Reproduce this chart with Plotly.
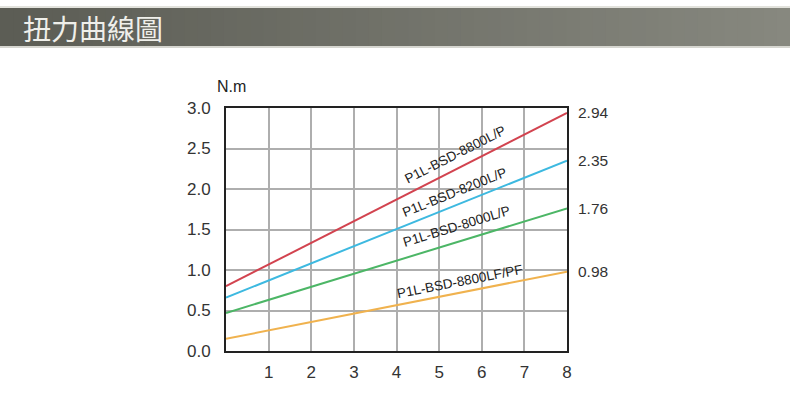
import plotly.graph_objects as go
import math

# ---- data ----
x_points = [0, 8]
series_names = ["P1L-BSD-8800L/P", "P1L-BSD-8200L/P", "P1L-BSD-8000L/P", "P1L-BSD-8800LF/PF"]
red_vals = [0.80, 2.94]
blue_vals = [0.66, 2.35]
green_vals = [0.47, 1.76]
orange_vals = [0.15, 0.98]
end_labels = ["2.94", "2.35", "1.76", "0.98"]
label_pos_x = [5.38, 5.35, 5.40, 5.49]
label_pos_y = [2.42, 1.96, 1.54, 0.86]
x_ticks = [1, 2, 3, 4, 5, 6, 7, 8]
y_ticks = [0.0, 0.5, 1.0, 1.5, 2.0, 2.5, 3.0]
title_text = "扭力曲線圖"
unit_text = "N.m"

colors = ["#d2434f", "#3db9e0", "#4cb666", "#f0b24e"]
all_vals = [red_vals, blue_vals, green_vals, orange_vals]

W, H = 790, 398
L, R, T, B = 226, 790 - 567, 108, 398 - 351
pw, ph = W - L - R, H - T - B

def px_to_paper_x(px):
    return (px - L) / pw

def px_to_paper_y(py):
    return (H - B - py) / ph

fig = go.Figure()
for name, vals, c in zip(series_names, all_vals, colors):
    fig.add_trace(go.Scatter(x=x_points, y=vals, mode="lines", name=name,
                             line=dict(color=c, width=2), hoverinfo="skip"))

shapes = []
# header gradient bar
n = 60
c0 = (0x5c, 0x5d, 0x55)
c1 = (0x87, 0x88, 0x7f)
for i in range(n):
    t = i / (n - 1)
    col = "rgb(%d,%d,%d)" % tuple(int(a + (b - a) * t) for a, b in zip(c0, c1))
    shapes.append(dict(type="rect", xref="paper", yref="paper",
                       x0=px_to_paper_x(W * i / n), x1=px_to_paper_x(W * (i + 1) / n + 1),
                       y0=px_to_paper_y(46), y1=px_to_paper_y(8),
                       fillcolor=col, line=dict(width=0), layer="below"))
shapes.append(dict(type="line", xref="paper", yref="paper",
                   x0=px_to_paper_x(0), x1=px_to_paper_x(W),
                   y0=px_to_paper_y(47), y1=px_to_paper_y(47),
                   line=dict(color="#c8c8c0", width=1.5)))
shapes.append(dict(type="line", xref="paper", yref="paper",
                   x0=px_to_paper_x(0), x1=px_to_paper_x(W),
                   y0=px_to_paper_y(7), y1=px_to_paper_y(7),
                   line=dict(color="#d8d8d0", width=1.5)))

annotations = []
annotations.append(dict(text=title_text, xref="paper", yref="paper",
                        x=px_to_paper_x(21), y=px_to_paper_y(28), xanchor="left", yanchor="middle",
                        showarrow=False,
                        font=dict(family="Noto Sans CJK TC", size=28, color="#efefea")))
annotations.append(dict(text=unit_text, xref="paper", yref="paper",
                        x=px_to_paper_x(231), y=px_to_paper_y(86), xanchor="center", yanchor="middle",
                        showarrow=False, font=dict(family="Arial, Liberation Sans", size=16, color="#222")))

xscale = pw / 8.0
yscale = ph / 3.0
for name, vals, lx, ly, lab in zip(series_names, all_vals, label_pos_x, label_pos_y, end_labels):
    slope = (vals[1] - vals[0]) / (x_points[1] - x_points[0])
    ang = math.degrees(math.atan(slope * yscale / xscale))
    annotations.append(dict(text=name, x=lx, y=ly, xref="x", yref="y", showarrow=False,
                            textangle=-ang, font=dict(family="Arial, Liberation Sans", size=13.5, color="#222")))
    annotations.append(dict(text=lab, x=x_points[1], y=vals[1], xref="x", yref="y", showarrow=False,
                            xanchor="left", yanchor="middle", xshift=9,
                            font=dict(family="Arial, Liberation Sans", size=15.5, color="#333")))

fig.update_layout(
    width=W, height=H,
    margin=dict(l=L, r=R, t=T, b=B, pad=0),
    paper_bgcolor="white", plot_bgcolor="white",
    showlegend=False,
    shapes=shapes, annotations=annotations,
    xaxis=dict(range=[0, 8], tickvals=x_ticks, ticktext=[str(v) for v in x_ticks],
               showgrid=True, gridcolor="#aeaeae", gridwidth=1.5,
               showline=True, linecolor="#222", linewidth=2, mirror=True,
               ticks="outside", ticklen=5, tickcolor="rgba(0,0,0,0)",
               zeroline=False,
               tickfont=dict(family="Arial, Liberation Sans", size=17, color="#333")),
    yaxis=dict(range=[0, 3], tickvals=y_ticks, ticktext=["%.1f" % v for v in y_ticks],
               showgrid=True, gridcolor="#aeaeae", gridwidth=1.5,
               showline=True, linecolor="#222", linewidth=2, mirror=True,
               ticks="outside", ticklen=10, tickcolor="rgba(0,0,0,0)",
               zeroline=False,
               tickfont=dict(family="Arial, Liberation Sans", size=17, color="#333")),
)

fig.write_html("out.html", config={"displayModeBar": False},
               post_script="document.body.style.margin='0';document.body.style.overflow='hidden';")
